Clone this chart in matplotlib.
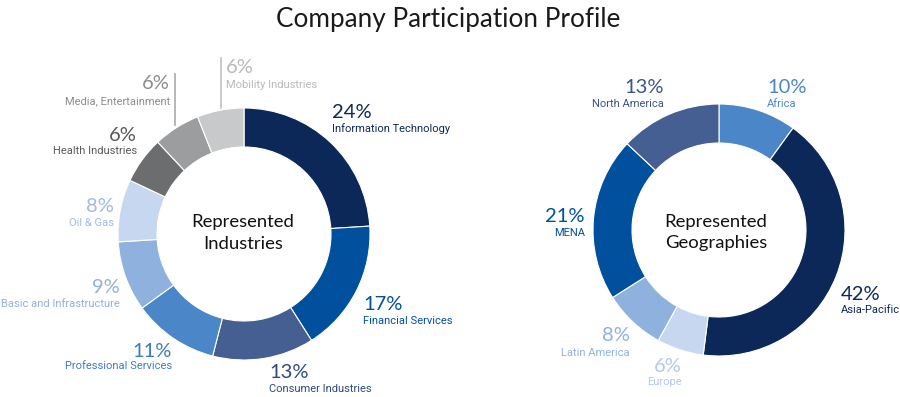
import matplotlib
matplotlib.use("Agg")
import matplotlib.pyplot as plt

# ---- data ----
ind_labels = ["Information Technology", "Financial Services", "Consumer Industries",
              "Professional Services", "Basic and Infrastructure", "Oil & Gas",
              "Health Industries", "Media, Entertainment", "Mobility Industries"]
ind_values = [24, 17, 13, 11, 9, 8, 6, 6, 6]

geo_labels = ["Africa", "Asia-Pacific", "Europe", "Latin America", "MENA", "North America"]
geo_values = [10, 42, 6, 8, 21, 13]

title = "Company Participation Profile"

# ---- styles ----
NAVY, BLUE, SLATE, MID, LIGHT, PALE = "#0b2858", "#00509d", "#465f92", "#4b87c8", "#8fb1de", "#c6d7ef"
ind_colors = [NAVY, BLUE, SLATE, MID, LIGHT, PALE, "#6c6d6f", "#9c9d9f", "#c8c9cb"]
geo_colors = [MID, NAVY, PALE, LIGHT, BLUE, SLATE]

ind_txt = ["#0b2858", "#00509d", "#2e4a80", "#3d7cc0", "#8fb1de", "#9dbbe3",
           "#58595b", "#8c8d8f", "#b8b9bb"]
geo_txt = ["#4b87c8", "#0b2858", "#b5cae8", "#8fb1de", "#00509d", "#3a568c"]

H = 397
fig = plt.figure(figsize=(9, 3.97), dpi=100)
ax = fig.add_axes([0, 0, 1, 1])

R, W = 126, 39
wp = dict(width=W, edgecolor="white", linewidth=0.8)
ax.pie(ind_values, colors=ind_colors, startangle=90, counterclock=False,
       center=(244, H - 234), radius=R, wedgeprops=wp)
ax.pie(geo_values, colors=geo_colors, startangle=90, counterclock=False,
       center=(719, H - 230), radius=R, wedgeprops=wp)
ax.set_xlim(0, 900)
ax.set_ylim(0, H)
ax.set_aspect("equal")
ax.axis("off")

FONT = "Lato"
NAME_FONT = "Roboto"

ax.text(448, H - 27, title, ha="center", va="baseline", fontsize=18.8,
        family=FONT, color="#1a1a1a")

ax.text(243, H - 227, "Represented", ha="center", va="baseline", fontsize=13.3, family=FONT, color="#111111")
ax.text(243, H - 249, "Industries", ha="center", va="baseline", fontsize=13.3, family=FONT, color="#111111")
ax.text(716, H - 227, "Represented", ha="center", va="baseline", fontsize=13.3, family=FONT, color="#111111")
ax.text(716, H - 248, "Geographies", ha="center", va="baseline", fontsize=13.3, family=FONT, color="#111111")


def lab(x, ypct, yname, pct, name, ha, color):
    ax.text(x, H - ypct, f"{pct}%", ha=ha, va="baseline", fontsize=14.5,
            family=FONT, color=color)
    ax.text(x, H - yname, name, ha=ha, va="baseline", fontsize=8,
            family=NAME_FONT, color=color)


# industries label positions (image pixels)
ind_pos = [(332, 118, 132, "left"), (363, 310, 324, "left"), (269, 378, 392, "left"),
           (172, 357, 369, "right"), (120, 293, 307, "right"), (114, 212, 226, "right"),
           (137, 141, 154, "right"), (170, 89, 104, "right"), (226, 73, 88, "left")]
for (x, yp, yn, ha), v, n, c in zip(ind_pos, ind_values, ind_labels, ind_txt):
    lab(x, yp, yn, v, n, ha, c)

geo_pos = [(767, 93, 107, "left"), (841, 300, 313, "left"), (682, 372, 385, "right"),
           (630, 341, 356, "right"), (585, 222, 236, "right"), (664, 93, 107, "right")]
for (x, yp, yn, ha), v, n, c in zip(geo_pos, geo_values, geo_labels, geo_txt):
    lab(x, yp, yn, v, n, ha, c)

# leader lines
ax.plot([175, 175], [H - 74, H - 125], color="#a8a9ab", lw=1.2)
ax.plot([221, 221], [H - 58, H - 108], color="#c0c1c3", lw=1.2)

fig.savefig("out.png", dpi=100, facecolor="white")
